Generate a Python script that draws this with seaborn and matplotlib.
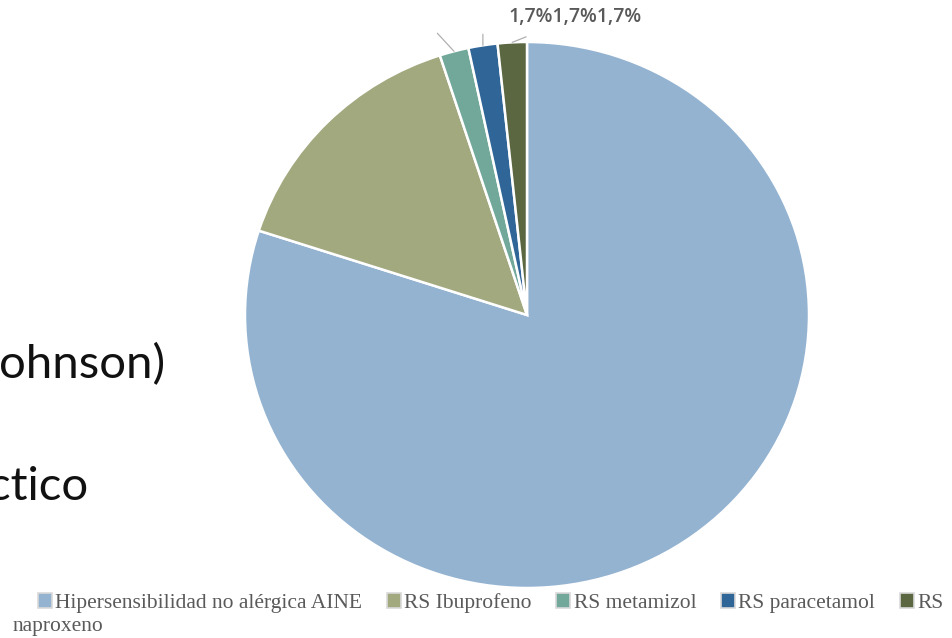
import numpy as np
import matplotlib
matplotlib.use('Agg')
import matplotlib.pyplot as plt
from matplotlib.patches import Patch
import seaborn as sns

categorias = ['Hipersensibilidad no alérgica AINE', 'RS Ibuprofeno', 'RS metamizol',
              'RS paracetamol', 'RS naproxeno']
pacientes = [48, 9, 1, 1, 1]
colores = ['#93b3d1', '#a3a97f', '#72a89a', '#2f6597', '#5b6741']
# solo las etiquetas de los sectores pequeños aparecen en la imagen
con_etiqueta = [False, False, True, True, True]

sns.set_theme(style='white')
plt.rcParams['font.family'] = ['DejaVu Sans']

fig = plt.figure(figsize=(9.53, 6.38), dpi=100)
ax = fig.add_axes([245 / 953, 50 / 638, 564 / 953, 546 / 638])

pal = sns.color_palette(colores)
wedges, _ = ax.pie(pacientes, colors=pal, startangle=90, counterclock=False,
                   wedgeprops=dict(edgecolor='white', linewidth=1.8))
ax.set_aspect('auto')
ax.set_xlim(-1, 1)
ax.set_ylim(-1, 1)

total = sum(pacientes)
etiquetas = []
desplaz = [(-12, 13), (0, 8), (10, 4)]
k = 0
for w, v, e in zip(wedges, pacientes, con_etiqueta):
    if not e:
        continue
    ang = np.deg2rad((w.theta1 + w.theta2) / 2)
    ax.annotate('', xy=(np.cos(ang), np.sin(ang)), xytext=desplaz[k],
                textcoords='offset points',
                arrowprops=dict(arrowstyle='-', color='#b0b0b0', lw=0.9,
                                shrinkA=0, shrinkB=0))
    etiquetas.append(f'{v / total * 100:.1f}'.replace('.', ',') + '%')
    k += 1

fig.text(508 / 953, 1 - 17 / 638, ''.join(etiquetas), ha='left', va='center',
         fontsize=14, color='#595959', family=['Open Sans', 'DejaVu Sans'],
         fontweight='semibold')

# texto de la diapositiva que queda detrás
fig.text(165 / 953, 1 - 378 / 638, 'ohnson)', ha='right', va='baseline',
         fontsize=34, color='#111111', family=['Lato', 'DejaVu Sans'])
fig.text(88 / 953, 1 - 500 / 638, 'ctico', ha='right', va='baseline',
         fontsize=34, color='#111111', family=['Lato', 'DejaVu Sans'])

# leyenda (la última entrada se parte en dos líneas)
handles = [Patch(facecolor=c, edgecolor='#d9d9d9', linewidth=1.2) for c in pal]
nombres = categorias[:-1] + ['RS']
leg = fig.legend(handles, nombres, loc='center left',
                 bbox_to_anchor=(38 / 953, 1 - 603 / 638), ncol=5, frameon=False,
                 borderpad=0, borderaxespad=0, handlelength=0.65, handleheight=0.65,
                 handletextpad=0.15, columnspacing=1.15,
                 prop={'family': 'Liberation Serif', 'size': 15.5})
for t in leg.get_texts():
    t.set_color('#5a5a5a')
fig.text(13 / 953, 1 - 627 / 638, 'naproxeno', ha='left', va='center',
         fontsize=15.5, color='#5a5a5a', family='Liberation Serif')

fig.savefig('out.png', dpi=100)
